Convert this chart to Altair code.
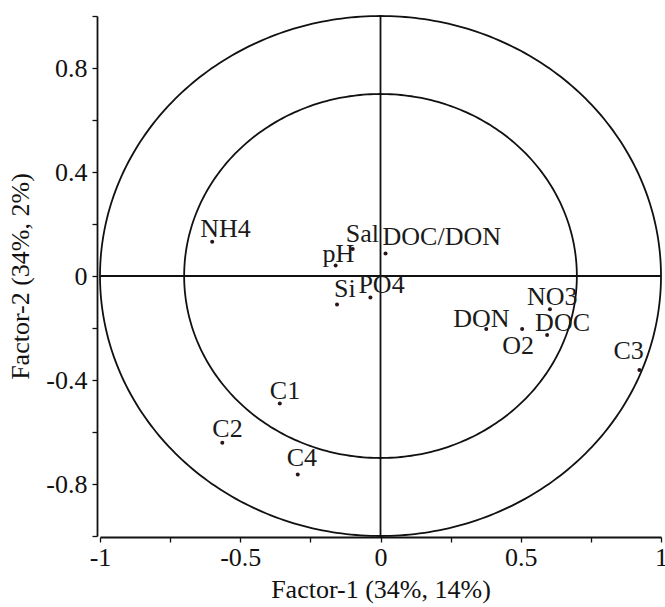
import altair as alt
import pandas as pd

# ---- data ----
labels = ["NH4", "pH", "Sal", "DOC/DON", "Si", "PO4", "NO3", "DON", "O2", "DOC", "C3", "C1", "C2", "C4"]
factor1 = [-0.600, -0.160, -0.099, 0.018, -0.155, -0.036, 0.604, 0.377, 0.505, 0.594, 0.923, -0.359, -0.564, -0.295]
factor2 = [0.132, 0.040, 0.104, 0.087, -0.110, -0.083, -0.128, -0.204, -0.204, -0.227, -0.362, -0.490, -0.641, -0.763]

circle_radii = [1.0, 0.7]
x_tick_values = [-1, -0.75, -0.5, -0.25, 0, 0.25, 0.5, 0.75, 1]
x_label_values = [-1, -0.5, 0, 0.5, 1]
y_tick_values = [round(i / 10, 1) for i in range(-10, 11)]
y_label_values = [-0.8, -0.4, 0, 0.4, 0.8]

x_title = "Factor-1 (34%, 14%)"
y_title = "Factor-2 (34%, 2%)"

# label placement (pixel offsets of text's left/baseline from the dot) -- styling only
label_offsets = {
    "NH4": (-12, -5), "pH": (-13, -4), "Sal": (-7, -7), "DOC/DON": (-3, -8),
    "Si": (-3, -8), "PO4": (-12, -5), "NO3": (-23, -4), "DON": (-33, -2),
    "O2": (-20, 25), "DOC": (-12, -4), "C3": (-26, -11), "C1": (-10, -4),
    "C2": (-10, -6), "C4": (-11, -8),
}

FONT = "Liberation Serif"
FS = 26

df = pd.DataFrame({"label": labels, "f1": factor1, "f2": factor2})

xscale = alt.Scale(domain=[-1, 1], nice=False, zero=False)
yscale = alt.Scale(domain=[-1, 1], nice=False, zero=False)

xaxis = alt.Axis(
    values=x_tick_values,
    labelExpr="indexof(%s, datum.value) >= 0 ? '' + datum.value : ''" % str(x_label_values),
    title=x_title, grid=False, offset=1, tickSize=5, labelPadding=2,
    titlePadding=6,
)
yaxis = alt.Axis(
    values=y_tick_values,
    labelExpr="indexof(%s, datum.value) >= 0 ? '' + datum.value : ''" % str(y_label_values),
    title=y_title, grid=False, offset=3, tickSize=5, labelPadding=5,
    titlePadding=12,
)

# circles (unit circle and 0.7 circle)
circles = []
for r in circle_radii:
    c = (
        alt.Chart(alt.sequence(0, 361, 1, as_="t"))
        .transform_calculate(
            cx="%f * cos(datum.t * PI / 180)" % r,
            cy="%f * sin(datum.t * PI / 180)" % r,
        )
        .mark_line(color="#111111", strokeWidth=1.8, clip=False)
        .encode(
            x=alt.X("cx:Q", scale=xscale, axis=xaxis),
            y=alt.Y("cy:Q", scale=yscale, axis=yaxis),
            order="t:Q",
        )
    )
    circles.append(c)

hline = alt.Chart().mark_rule(color="#111111", strokeWidth=1.8).encode(
    x=alt.datum(-1, scale=xscale), x2=alt.datum(1), y=alt.datum(0, scale=yscale)
)
vline = alt.Chart().mark_rule(color="#111111", strokeWidth=1.8).encode(
    y=alt.datum(-1, scale=yscale), y2=alt.datum(1), x=alt.datum(0, scale=xscale)
)

points = alt.Chart(df).mark_circle(size=16, color="#2a1414", opacity=1).encode(
    x=alt.X("f1:Q", scale=xscale), y=alt.Y("f2:Q", scale=yscale)
)

texts = []
for lab in labels:
    dx, dy = label_offsets[lab]
    t = (
        alt.Chart(df)
        .transform_filter(alt.datum.label == lab)
        .mark_text(align="left", baseline="alphabetic", dx=dx, dy=dy,
                   font=FONT, fontSize=FS, color="#1a1a1a")
        .encode(x=alt.X("f1:Q", scale=xscale), y=alt.Y("f2:Q", scale=yscale), text="label:N")
    )
    texts.append(t)

chart = (
    alt.layer(*circles, hline, vline, points, *texts)
    .properties(
        width=561, height=520,
        padding={"left": 100, "top": 16, "right": 4, "bottom": 71},
        autosize=alt.AutoSizeParams(type="none"),
        background="white",
    )
    .configure_view(stroke=None)
    .configure_axis(
        labelFont=FONT, labelFontSize=FS, labelColor="#111111",
        titleFont=FONT, titleFontSize=FS, titleFontWeight="normal", titleColor="#111111",
        domainColor="#111111", domainWidth=1.8, tickColor="#111111", tickWidth=1.3,
        labelFlush=False, labelOverlap=False,
    )
)

chart.save("out.html", embed_options={"renderer": "svg", "actions": False})
